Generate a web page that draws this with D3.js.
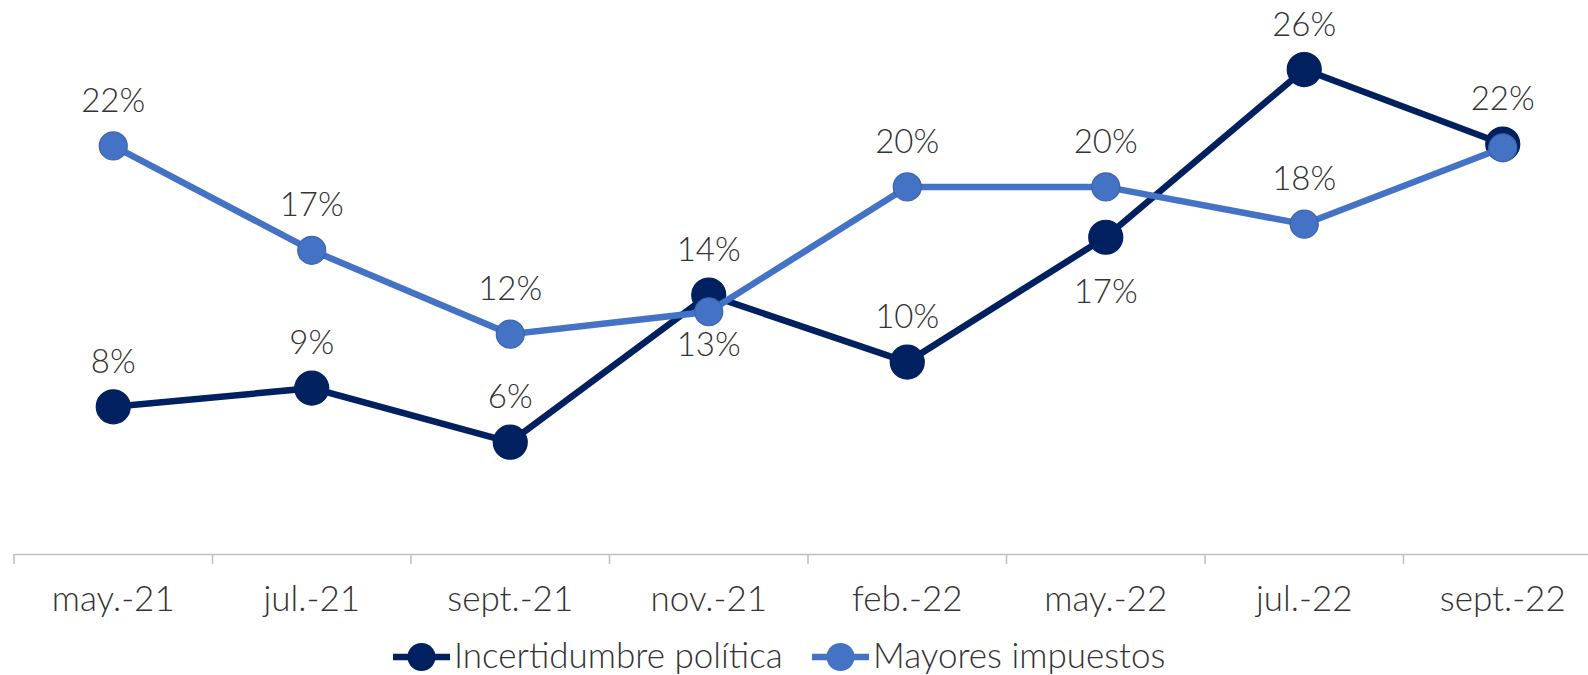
<!DOCTYPE html>
<html>
<head>
<meta charset="utf-8">
<script src="https://cdn.jsdelivr.net/npm/d3@7"></script>
<style>
  body { margin: 0; background: #fff; }
  svg { display: block; font-family: Lato, 'Open Sans', sans-serif; font-weight: 300; }
</style>
</head>
<body>
<svg id="chart"></svg>
<script>
const W = 1588
const H = 675

// data
const months = ['may.-21', 'jul.-21', 'sept.-21', 'nov.-21', 'feb.-22', 'may.-22', 'jul.-22', 'sept.-22']
const incertidumbre = [0.079, 0.089, 0.060, 0.139, 0.103, 0.170, 0.260, 0.220]
const impuestos = [0.219, 0.163, 0.118, 0.130, 0.197, 0.197, 0.177, 0.218]
const incertidumbreLabels = ['8%', '9%', '6%', '14%', '10%', '17%', '26%', '22%']
const impuestosLabels = ['22%', '17%', '12%', '13%', '20%', '20%', '18%', '']
const incertidumbrePos = ['above', 'above', 'above', 'above', 'above', 'below', 'above', 'above']
const impuestosPos = ['above', 'above', 'above', 'below', 'above', 'above', 'above', 'above']

const series = [
  { name: 'Incertidumbre política', values: incertidumbre, labels: incertidumbreLabels, pos: incertidumbrePos,
    color: '#002060', edge: '#002060', r: 17, below: 66 },
  { name: 'Mayores impuestos', values: impuestos, labels: impuestosLabels, pos: impuestosPos,
    color: '#4472C4', edge: '#3b64ad', r: 14, below: 44 }
]

const axisY = 554

const svg = d3.select('#chart').attr('width', W).attr('height', H)

const x = d3.scaleBand().domain(months).range([14, 1602])
const y = d3.scaleLinear().domain([0, 0.3]).range([axisY, -5])

// x axis
const xAxis = d3.axisBottom(x).tickSizeInner(0).tickSizeOuter(0)
const gx = svg.append('g')
  .attr('transform', 'translate(0,' + axisY + ')')
  .call(xAxis)
gx.select('.domain').attr('stroke', '#bfbfbf').attr('stroke-width', 1.5)
gx.selectAll('.tick text')
  .attr('y', 57).attr('dy', 0)
  .attr('fill', '#333')
  .style('font-size', '35px')
  .style('font-family', 'Lato, sans-serif')
  .style('font-weight', 300)

// tick marks between categories
gx.selectAll('line.sep')
  .data(months)
  .enter()
  .append('line')
  .attr('class', 'sep')
  .attr('x1', d => x(d)).attr('x2', d => x(d))
  .attr('y1', 0).attr('y2', 10)
  .attr('stroke', '#bfbfbf')
  .attr('stroke-width', 1.5)

const line = d3.line()
  .x((d, i) => x(months[i]) + x.bandwidth() / 2)
  .y(d => y(d))

series.forEach(s => {
  const g = svg.append('g')
  g.append('path')
    .datum(s.values)
    .attr('d', line)
    .attr('fill', 'none')
    .attr('stroke', s.color)
    .attr('stroke-width', 6.5)

  g.selectAll('circle')
    .data(s.values)
    .enter()
    .append('circle')
    .attr('cx', (d, i) => x(months[i]) + x.bandwidth() / 2)
    .attr('cy', d => y(d))
    .attr('r', s.r)
    .attr('fill', s.color)
    .attr('stroke', s.edge)
    .attr('stroke-width', 1.2)
})

// data labels on top
series.forEach(s => {
  svg.append('g').selectAll('text')
    .data(s.values)
    .enter()
    .append('text')
    .attr('x', (d, i) => x(months[i]) + x.bandwidth() / 2)
    .attr('y', (d, i) => s.pos[i] == 'below' ? y(d) + s.below : y(d) - 34)
    .attr('text-anchor', 'middle')
    .attr('fill', '#333')
    .style('font-size', '33px')
    .text((d, i) => s.labels[i])
})

// legend
const legendX = [393, 812]
const legend = svg.append('g')
series.forEach((s, i) => {
  const lg = legend.append('g').attr('transform', 'translate(' + legendX[i] + ',657)')
  lg.append('line')
    .attr('x1', 0).attr('x2', 57)
    .attr('y1', 0).attr('y2', 0)
    .attr('stroke', s.color)
    .attr('stroke-width', 6.5)
  lg.append('circle')
    .attr('cx', 28.5).attr('cy', 0)
    .attr('r', 14)
    .attr('fill', s.color)
  lg.append('text')
    .attr('x', 61)
    .attr('y', 11)
    .attr('fill', '#333')
    .style('font-size', '35px')
    .text(s.name)
})
</script>
</body>
</html>
